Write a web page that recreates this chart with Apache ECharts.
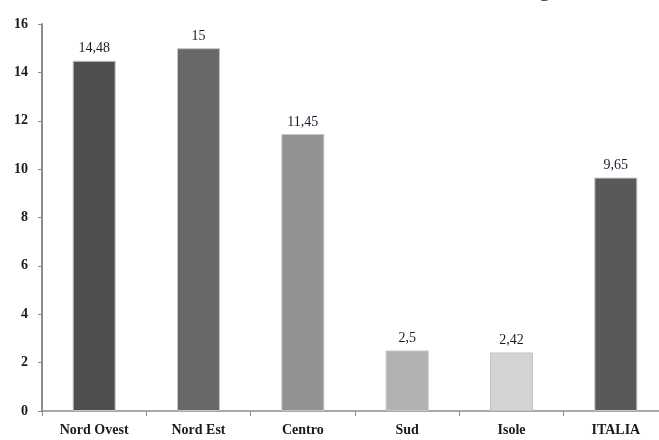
<!DOCTYPE html>
<html>
<head>
<meta charset="utf-8">
<script src="https://cdn.jsdelivr.net/npm/echarts@6/dist/echarts.min.js"></script>
<style>
  html, body { margin: 0; padding: 0; background: #fff; overflow: hidden; }
  #chart { width: 680px; height: 440px; }
</style>
</head>
<body>
<div id="chart"></div>
<script>
// Regional values
const categories = ['Nord Ovest', 'Nord Est', 'Centro', 'Sud', 'Isole', 'ITALIA'];
const values = [14.48, 15, 11.45, 2.5, 2.42, 9.65];
const barColors = ['#4f4f4f', '#686868', '#929292', '#b2b2b2', '#d3d3d3', '#595959'];
const yTicks = [0, 2, 4, 6, 8, 10, 12, 14, 16];

const chart = echarts.init(document.getElementById('chart'), null, { renderer: 'canvas' });

const serif = '"Liberation Serif", "DejaVu Serif", serif';

chart.setOption({
  animation: false,
  backgroundColor: '#ffffff',
  grid: { left: 42, top: 24, bottom: 29, right: 12, containLabel: false },
  graphic: [{
    type: 'text',
    left: 539,
    top: -21,
    style: { text: 'g', font: '22px ' + serif, fill: '#222' }
  }],
  xAxis: {
    type: 'category',
    data: categories,
    boundaryGap: true,
    axisLine: { lineStyle: { color: '#8c8c8c', width: 1.5 } },
    axisTick: { show: true, length: 5, alignWithLabel: false, lineStyle: { color: '#8c8c8c' } },
    axisLabel: { color: '#1a1a1a', fontFamily: serif, fontWeight: 'bold', fontSize: 14, margin: 12 }
  },
  yAxis: {
    type: 'value',
    min: yTicks[0],
    max: yTicks[yTicks.length - 1],
    interval: 2,
    splitLine: { show: false },
    axisLine: { show: true, lineStyle: { color: '#8c8c8c', width: 2 } },
    axisTick: { show: true, length: 4, lineStyle: { color: '#8c8c8c' } },
    axisLabel: { color: '#1a1a1a', fontFamily: serif, fontWeight: 'bold', fontSize: 14, margin: 14 }
  },
  series: [{
    type: 'bar',
    barWidth: 43,
    data: values.map((v, i) => ({
      value: v,
      itemStyle: { color: barColors[i], borderColor: '#c4c4c4', borderWidth: 1 }
    })),
    label: {
      show: true,
      position: 'top',
      distance: 5,
      color: '#1a1a2a',
      fontFamily: serif,
      fontSize: 14,
      formatter: p => String(p.value).replace('.', ',')
    }
  }]
});
</script>
</body>
</html>
